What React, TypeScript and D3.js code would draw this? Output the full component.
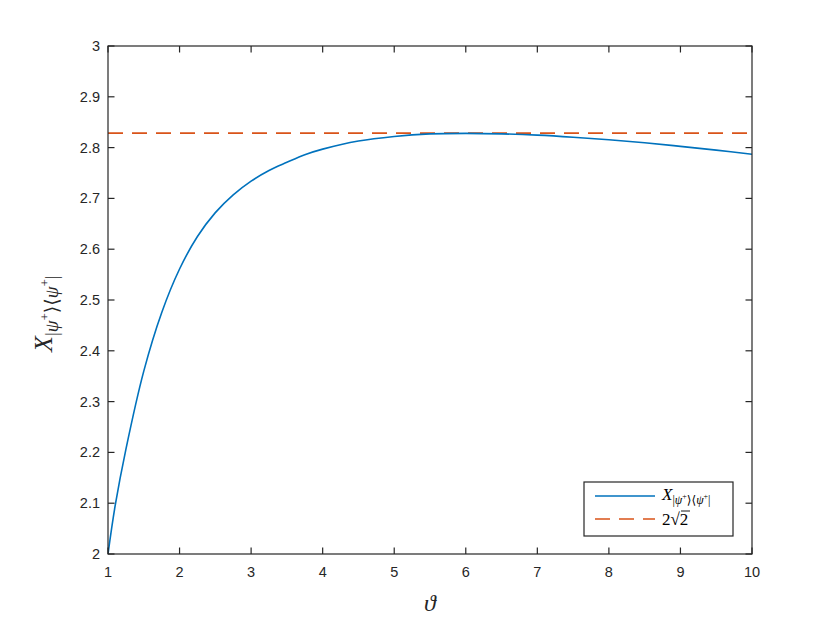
import React from "react";
import * as d3 from "d3";

const thetaValues = [1, 1.1, 1.25, 1.5, 1.75, 2, 2.25, 2.5, 2.75, 3, 3.25, 3.5, 3.75, 4, 4.5, 5, 5.5, 6, 6.5, 7, 7.5, 8, 8.5, 9, 9.5, 10];
const xValues = [2.0, 2.095, 2.206, 2.36, 2.475, 2.561, 2.625, 2.672, 2.707, 2.734, 2.755, 2.771, 2.786, 2.797, 2.813, 2.822, 2.827, 2.828, 2.827, 2.8245, 2.8205, 2.8155, 2.8095, 2.8025, 2.795, 2.787];
const bound = 2 * Math.SQRT2;
const xTicks = [1, 2, 3, 4, 5, 6, 7, 8, 9, 10];
const yTicks = [2, 2.1, 2.2, 2.3, 2.4, 2.5, 2.6, 2.7, 2.8, 2.9, 3];

const W = 830, H = 623;
const L = 108, R = 752, T = 46, B = 554;
const axisColor = "#262626";
const blue = "#0072BD";
const orange = "#D95319";

export default function App() {
  const x = d3.scaleLinear().domain([1, 10]).range([L, R]);
  const y = d3.scaleLinear().domain([2, 3]).range([B, T]);
  const line = d3
    .line<number>()
    .x((_, i) => x(thetaValues[i]))
    .y((d) => y(d))
    .curve(d3.curveCatmullRom.alpha(0.5));
  const path = line(xValues) || "";
  const tl = 6.5;
  const serif = "'Liberation Serif', 'DejaVu Serif', serif";
  const sans = "'Liberation Sans', Arial, sans-serif";

  const lgX = 584, lgY = 482, lgW = 149, lgH = 54;

  return (
    <svg width={W} height={H} style={{ position: "absolute", left: 0, top: 0, background: "#fff" }}>
      <rect x={0} y={0} width={W} height={H} fill="#fff" />
      <defs>
        <clipPath id="clip">
          <rect x={L} y={T} width={R - L} height={B - T} />
        </clipPath>
      </defs>
      <g clipPath="url(#clip)">
        <line x1={x(1)} x2={x(10)} y1={y(bound)} y2={y(bound)} stroke={orange} strokeWidth={1.6} strokeDasharray="15 9" />
        <path d={path} fill="none" stroke={blue} strokeWidth={1.6} />
      </g>
      <rect x={L} y={T} width={R - L} height={B - T} fill="none" stroke={axisColor} strokeWidth={1.2} />
      {xTicks.map((t) => (
        <g key={"x" + t}>
          <line x1={x(t)} x2={x(t)} y1={B} y2={B - tl} stroke={axisColor} strokeWidth={1.2} />
          <line x1={x(t)} x2={x(t)} y1={T} y2={T + tl} stroke={axisColor} strokeWidth={1.2} />
          <text x={x(t)} y={B + 23} textAnchor="middle" fontFamily={sans} fontSize={14.5} fill={axisColor}>
            {t}
          </text>
        </g>
      ))}
      {yTicks.map((t) => (
        <g key={"y" + t}>
          <line x1={L} x2={L + tl} y1={y(t)} y2={y(t)} stroke={axisColor} strokeWidth={1.2} />
          <line x1={R} x2={R - tl} y1={y(t)} y2={y(t)} stroke={axisColor} strokeWidth={1.2} />
          <text x={L - 8} y={y(t) + 5} textAnchor="end" fontFamily={sans} fontSize={14.5} fill={axisColor}>
            {d3.format("")(+t.toFixed(1))}
          </text>
        </g>
      ))}
      <text x={(L + R) / 2} y={611} textAnchor="middle" fontFamily={serif} fontStyle="italic" fontSize={24} fill={axisColor}>
        ϑ
      </text>
      <g transform={`translate(52, 352) rotate(-90)`}>
        <text x={0} y={0} fontFamily={serif} fontStyle="italic" fontSize={26} fill={axisColor}>
          X
          <tspan fontSize={19} dy={6} fontStyle="normal">|</tspan>
          <tspan fontSize={19} fontStyle="italic">ψ</tspan>
          <tspan fontSize={13} dy={-9} fontStyle="normal">+</tspan>
          <tspan fontSize={19} dy={9} fontStyle="normal">⟩⟨</tspan>
          <tspan fontSize={19} fontStyle="italic">ψ</tspan>
          <tspan fontSize={13} dy={-9} fontStyle="normal">+</tspan>
          <tspan fontSize={19} dy={9} fontStyle="normal">|</tspan>
        </text>
      </g>
      <rect x={lgX} y={lgY} width={lgW} height={lgH} fill="#fff" stroke={axisColor} strokeWidth={1.2} />
      <line x1={595} x2={655} y1={496} y2={496} stroke={blue} strokeWidth={1.6} />
      <line x1={595} x2={655} y1={519} y2={519} stroke={orange} strokeWidth={1.6} strokeDasharray="15 9" />
      <text x={662} y={500} fontFamily={serif} fontStyle="italic" fontSize={17} fill="#000">
        X
        <tspan fontSize={12} dy={4} fontStyle="normal">|</tspan>
        <tspan fontSize={12}>ψ</tspan>
        <tspan fontSize={8} dy={-5} fontStyle="normal">+</tspan>
        <tspan fontSize={12} dy={5} fontStyle="normal">⟩⟨</tspan>
        <tspan fontSize={12}>ψ</tspan>
        <tspan fontSize={8} dy={-5} fontStyle="normal">+</tspan>
        <tspan fontSize={12} dy={5} fontStyle="normal">|</tspan>
      </text>
      <text x={662} y={525} fontFamily={serif} fontSize={17} fill="#000">
        2√2
      </text>
      <line x1={681} x2={690} y1={511} y2={511} stroke="#000" strokeWidth={0.9} />
    </svg>
  );
}
